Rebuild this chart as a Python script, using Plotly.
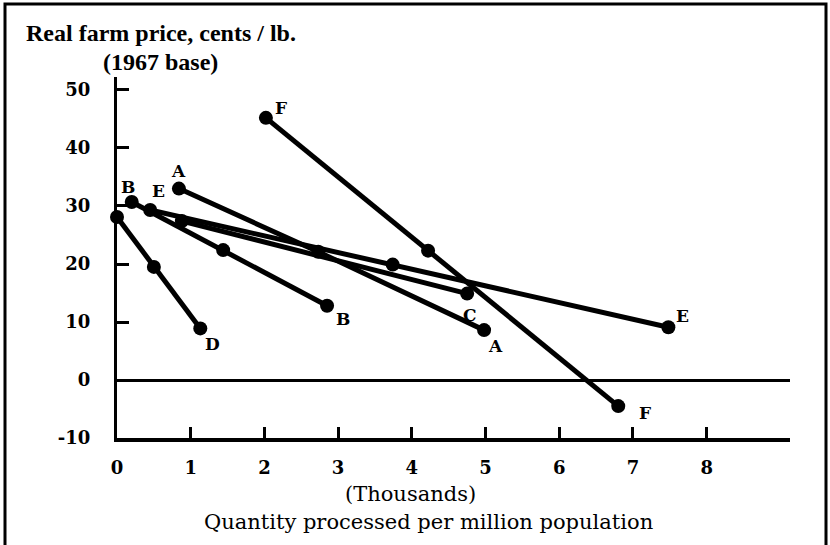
import plotly.graph_objects as go

# ---- data ----
series_names = ["A", "B", "C", "D", "E", "F"]
a_x = [0.84, 2.73, 4.98]
a_y = [33.0, 22.1, 8.6]
b_x = [0.20, 1.44, 2.85]
b_y = [30.7, 22.4, 12.8]
c_x = [0.88, 4.75]
c_y = [27.4, 14.9]
d_x = [0.0, 0.50, 1.13]
d_y = [28.1, 19.5, 8.9]
e_x = [0.45, 3.74, 7.48]
e_y = [29.3, 19.9, 9.1]
f_x = [2.02, 4.22, 6.80]
f_y = [45.2, 22.3, -4.5]

x_ticks = [0, 1, 2, 3, 4, 5, 6, 7, 8]
y_ticks = [-10, 0, 10, 20, 30, 40, 50]

y_title_lines = ["Real farm price, cents / lb.", "(1967 base)"]
x_title_lines = ["(Thousands)", "Quantity processed per million population"]

# which point of each series carries a letter label, and its pixel offset
label_spec = {
    "A": [(0, 0, 18), (-1, 11, -16)],
    "B": [(0, -4, 15), (-1, 16, -13)],
    "C": [(-1, 3, -21)],
    "D": [(-1, 12, -16)],
    "E": [(0, 8, 19), (-1, 14, 11)],
    "F": [(0, 15, 10), (-1, 27, -7)],
}

xs = {"A": a_x, "B": b_x, "C": c_x, "D": d_x, "E": e_x, "F": f_x}
ys = {"A": a_y, "B": b_y, "C": c_y, "D": d_y, "E": e_y, "F": f_y}

TITLE_FONT = "Liberation Serif"
BOLD_FONT = "DejaVu Serif"
W, H = 830, 545
ML, MR, MT, MB = 117, 40, 77, 107
PW, PH = W - ML - MR, H - MT - MB

def px_to_paper_x(px):
    return (px - ML) / PW

def px_to_paper_y(py):
    return (H - MB - py) / PH

fig = go.Figure()
for name in series_names:
    fig.add_trace(go.Scatter(
        x=xs[name], y=ys[name], mode="lines+markers", name=name,
        line=dict(color="black", width=5),
        marker=dict(color="black", size=14),
        showlegend=False, hoverinfo="skip", cliponaxis=False,
    ))

annotations = []
for name in series_names:
    for idx, dx, dy in label_spec[name]:
        annotations.append(dict(
            x=xs[name][idx], y=ys[name][idx], xref="x", yref="y",
            text=f"<b>{name}</b>", showarrow=False,
            xshift=dx, yshift=dy,
            font=dict(family=BOLD_FONT, size=17, color="black"),
        ))

# axis titles
annotations.append(dict(x=px_to_paper_x(161), y=px_to_paper_y(33), xref="paper", yref="paper",
                        text=f"<b>{y_title_lines[0]}</b>", showarrow=False,
                        xanchor="center", yanchor="middle",
                        font=dict(family=TITLE_FONT, size=24, color="black")))
annotations.append(dict(x=px_to_paper_x(160), y=px_to_paper_y(62), xref="paper", yref="paper",
                        text=f"<b>{y_title_lines[1]}</b>", showarrow=False,
                        xanchor="center", yanchor="middle",
                        font=dict(family=TITLE_FONT, size=24, color="black")))
annotations.append(dict(x=px_to_paper_x(410), y=px_to_paper_y(494), xref="paper", yref="paper",
                        text=x_title_lines[0], showarrow=False,
                        xanchor="center", yanchor="middle",
                        font=dict(family=BOLD_FONT, size=21, color="black")))
annotations.append(dict(x=px_to_paper_x(428), y=px_to_paper_y(522), xref="paper", yref="paper",
                        text=x_title_lines[1], showarrow=False,
                        xanchor="center", yanchor="middle",
                        font=dict(family=BOLD_FONT, size=21, color="black")))

shapes = [dict(type="rect", xref="paper", yref="paper",
               x0=px_to_paper_x(5), x1=px_to_paper_x(826),
               y0=px_to_paper_y(580), y1=px_to_paper_y(4),
               line=dict(color="black", width=3), fillcolor="rgba(0,0,0,0)", layer="below")]

fig.update_layout(
    width=W, height=H,
    margin=dict(l=ML, r=MR, t=MT, b=MB, autoexpand=False),
    paper_bgcolor="white", plot_bgcolor="white",
    annotations=annotations, shapes=shapes,
    font=dict(family=BOLD_FONT, color="black"),
)
fig.update_xaxes(
    range=[0, 9.13], tickvals=x_ticks, ticktext=[f"<b>{v}</b>" for v in x_ticks],
    showgrid=False, zeroline=False, automargin=False,
    showline=True, linecolor="black", linewidth=4,
    ticks="inside", ticklen=11, tickwidth=3, tickcolor="black",
    tickfont=dict(family=BOLD_FONT, size=18, color="black"),
    ticklabelstandoff=10,
)
fig.update_yaxes(
    range=[-10, 52.24], tickvals=y_ticks, ticktext=[f"<b>{v}</b>" for v in y_ticks],
    showgrid=False, zeroline=True, zerolinecolor="black", zerolinewidth=3,
    automargin=False,
    showline=True, linecolor="black", linewidth=3,
    ticks="inside", ticklen=12, tickwidth=3, tickcolor="black",
    tickfont=dict(family=BOLD_FONT, size=18, color="black"),
    ticklabelstandoff=20,
)

fig.write_html(
    "out.html",
    config={"displayModeBar": False},
    post_script="document.body.style.margin='0';document.body.style.overflow='hidden';",
)
